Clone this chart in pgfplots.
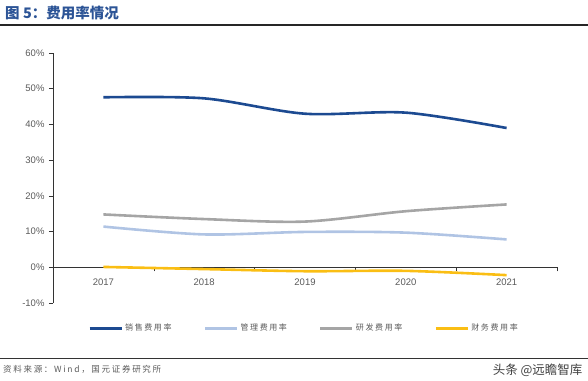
\documentclass[border=0pt]{standalone}
\usepackage{pgfplots}
\pgfplotsset{compat=1.18}
\usepackage{fontspec}
\setmainfont{Liberation Sans}
\newfontfamily\cjk{Noto Sans CJK SC}
\newfontfamily\cjkl[LetterSpace=20]{Noto Sans CJK SC}
\definecolor{cSale}{RGB}{28,74,145}
\definecolor{cAdm}{RGB}{176,196,228}
\definecolor{cRD}{RGB}{165,165,165}
\definecolor{cFin}{RGB}{250,190,20}
\definecolor{cTitle}{RGB}{44,84,150}
\definecolor{cTxt}{RGB}{90,90,90}
\begin{document}
\begin{tikzpicture}[x=1pt,y=1pt]
\useasboundingbox (0,0) rectangle (588,380);
% title
\node[anchor=west,text=cTitle,font=\cjk\bfseries\fontsize{14.5}{16}\selectfont,inner sep=0pt] at (5,367) {图 5：费用率情况};
\draw[line width=1.2pt,black!85] (0,355) -- (588,355);
% footer
\draw[line width=0.8pt,black!80] (0,22) -- (588,22);
\node[anchor=west,text=cTxt,font=\cjkl\fontsize{8.5}{10}\selectfont,inner sep=0pt] at (3,11) {资料来源：Wind，国元证券研究所};
\node[anchor=east,text=black!75,font=\cjk\fontsize{12.5}{14}\selectfont] at (586,10) {头条 @远瞻智库};
\begin{axis}[
  at={(53pt,77pt)}, anchor=south west,
  scale only axis, width=504pt, height=250pt,
  xmin=-0.5, xmax=4.5, ymin=-10, ymax=60,
  axis x line=middle, axis y line=left,
  axis line style={black!80, line width=0.6pt, -},
  xtick={0,1,2,3,4},
  xticklabels={2017,2018,2019,2020,2021},
  minor xtick={0.5,1.5,2.5,3.5,4.5},
  major x tick style={draw=none},
  minor tick length=4pt,
  ytick={-10,0,...,60},
  yticklabel={\pgfmathprintnumber{\tick}\%},
  /pgf/number format/assume math mode=true,
  tick align=outside,
  major tick length=4pt,
  tick style={black!80, line width=0.6pt},
  ticklabel style={font=\fontsize{9.5}{10}\selectfont, text=cTxt},
  x tick label style={anchor=north, yshift=-4pt},
  y tick label style={xshift=-1pt},
  legend columns=4,
  legend style={at={(0.498,-0.1)}, anchor=center, draw=none, fill=none,
     font=\cjkl\fontsize{8}{10}\selectfont, text=cTxt,
     /tikz/every odd column/.append style={column sep=0pt},
     /tikz/every even column/.append style={column sep=30pt},
     nodes={inner xsep=2pt}},
  legend image code/.code={\draw[#1,line width=3pt] (0pt,0pt) -- (32pt,0pt);},
  every axis plot/.append style={line width=2.6pt, smooth, tension=0.5},
  clip=false,
]
\addplot[cSale] coordinates {(0,47.6) (1,47.3) (2,43.0) (3,43.3) (4,39.0)};
\addlegendentry{销售费用率}
\addplot[cAdm] coordinates {(0,11.4) (1,9.2) (2,9.9) (3,9.7) (4,7.8)};
\addlegendentry{管理费用率}
\addplot[cRD] coordinates {(0,14.8) (1,13.5) (2,12.8) (3,15.7) (4,17.6)};
\addlegendentry{研发费用率}
\addplot[cFin] coordinates {(0,0.1) (1,-0.5) (2,-1.1) (3,-1.0) (4,-2.2)};
\addlegendentry{财务费用率}
\end{axis}
\end{tikzpicture}
\end{document}
